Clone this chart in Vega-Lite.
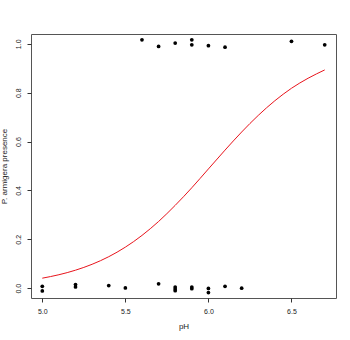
{
  "$schema": "https://vega.github.io/schema/vega-lite/v6.json",
  "width": 305,
  "height": 264,
  "autosize": "none",
  "padding": {"left": 31, "top": 34, "right": 14, "bottom": 42},
  "background": "white",
  "config": {
    "view": {"stroke": "#555", "strokeWidth": 1},
    "font": "Liberation Sans",
    "axis": {"grid": false, "domain": false, "tickColor": "#333", "tickSize": 4, "labelFontSize": 7, "labelColor": "#222", "titleFontSize": 8, "titleFontWeight": "normal", "titleColor": "#222"}
  },
  "datasets": {
    "pts": [
      {"pH": 5.0, "presence": 0.008}, {"pH": 5.0, "presence": -0.011},
      {"pH": 5.2, "presence": 0.015}, {"pH": 5.2, "presence": 0.005},
      {"pH": 5.4, "presence": 0.011}, {"pH": 5.5, "presence": 0.001},
      {"pH": 5.7, "presence": 0.018},
      {"pH": 5.8, "presence": 0.005}, {"pH": 5.8, "presence": -0.003}, {"pH": 5.8, "presence": -0.01},
      {"pH": 5.9, "presence": 0.005}, {"pH": 5.9, "presence": -0.002},
      {"pH": 6.0, "presence": -0.001}, {"pH": 6.0, "presence": -0.018},
      {"pH": 6.1, "presence": 0.008}, {"pH": 6.2, "presence": 0.0},
      {"pH": 5.6, "presence": 1.016}, {"pH": 5.7, "presence": 0.989},
      {"pH": 5.8, "presence": 1.003}, {"pH": 5.9, "presence": 1.016}, {"pH": 5.9, "presence": 0.996},
      {"pH": 6.0, "presence": 0.992}, {"pH": 6.1, "presence": 0.986},
      {"pH": 6.5, "presence": 1.01}, {"pH": 6.7, "presence": 0.996}
    ],
    "curve": [
      {"pH": 5.0, "p": 0.0411}, {"pH": 5.1, "p": 0.0552}, {"pH": 5.2, "p": 0.0738},
      {"pH": 5.3, "p": 0.098}, {"pH": 5.4, "p": 0.129}, {"pH": 5.5, "p": 0.168},
      {"pH": 5.6, "p": 0.216}, {"pH": 5.7, "p": 0.273}, {"pH": 5.8, "p": 0.339},
      {"pH": 5.9, "p": 0.411}, {"pH": 6.0, "p": 0.488}, {"pH": 6.1, "p": 0.565},
      {"pH": 6.2, "p": 0.639}, {"pH": 6.3, "p": 0.707}, {"pH": 6.4, "p": 0.767},
      {"pH": 6.5, "p": 0.818}, {"pH": 6.6, "p": 0.859}, {"pH": 6.7, "p": 0.893}
    ]
  },
  "layer": [
    {
      "data": {"name": "pts"},
      "mark": {"type": "circle", "color": "black", "opacity": 1, "size": 14},
      "encoding": {
        "x": {"field": "pH", "type": "quantitative", "scale": {"domain": [4.932, 6.768], "nice": false, "zero": false},
              "axis": {"values": [5.0, 5.5, 6.0, 6.5], "format": ".1f", "title": "pH", "labelPadding": 5, "titlePadding": 8}},
        "y": {"field": "presence", "type": "quantitative", "scale": {"domain": [-0.04, 1.04], "nice": false, "zero": false},
              "axis": {"values": [0, 0.2, 0.4, 0.6, 0.8, 1.0], "format": ".1f", "title": "P. armigera presence", "labelAngle": 270, "labelAlign": "center", "labelBaseline": "bottom", "labelPadding": 6, "titlePadding": 6}}
      }
    },
    {
      "data": {"name": "curve"},
      "mark": {"type": "line", "color": "#e8141c", "strokeWidth": 1, "interpolate": "monotone"},
      "encoding": {
        "x": {"field": "pH", "type": "quantitative"},
        "y": {"field": "p", "type": "quantitative"}
      }
    }
  ]
}
